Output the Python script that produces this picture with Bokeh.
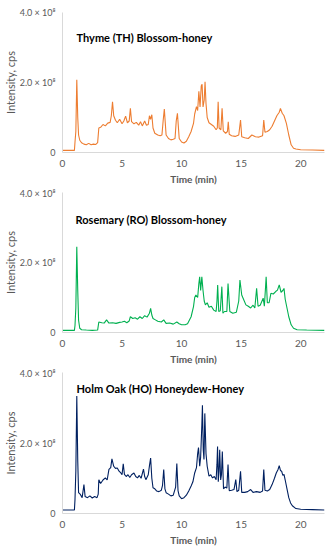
from bokeh.plotting import figure
from bokeh.models import Label, FixedTicker, Range1d
from bokeh.layouts import column
from bokeh.embed import file_html
from bokeh.resources import INLINE

# Intensities in units of 1e8 cps, retention time in minutes
TH_T = [0, 0.5, 1.0, 1.05, 1.12, 1.2, 1.28, 1.35, 1.45, 1.6, 1.8, 2.0, 2.2, 2.4, 2.6, 2.8, 2.95, 3.05, 3.2, 3.4,
        3.6, 3.8, 4.0, 4.1, 4.2, 4.3, 4.45, 4.6, 4.8, 5.0, 5.15, 5.3, 5.45, 5.6, 5.7, 5.8, 6.0, 6.2, 6.4, 6.55,
        6.7, 6.9, 7.05, 7.2, 7.3, 7.4, 7.5, 7.6, 7.75, 8.0, 8.2, 8.35, 8.45, 8.55, 8.7, 8.9, 9.1, 9.3, 9.45, 9.55,
        9.65, 9.8, 10.0, 10.2, 10.4, 10.6, 10.8, 11.0, 11.1, 11.25, 11.35, 11.45, 11.55, 11.65, 11.72, 11.8, 11.9,
        11.97, 12.05, 12.15, 12.3, 12.5, 12.7, 12.9, 13.0, 13.07, 13.15, 13.3, 13.4, 13.5, 13.7, 13.85, 13.92, 14.0,
        14.2, 14.5, 14.8, 14.95, 15.05, 15.3, 15.6, 15.9, 16.2, 16.5, 16.8, 16.9, 17.0, 17.2, 17.4, 17.6, 17.8,
        18.0, 18.2, 18.3, 18.45, 18.6, 18.8, 19.0, 19.2, 19.4, 19.6, 20.0, 21.0, 22.0]
TH_V = [0.06, 0.06, 0.06, 0.3, 0.6, 2.08, 1.0, 0.5, 0.35, 0.28, 0.24, 0.22, 0.26, 0.22, 0.24, 0.23, 0.28, 0.7, 0.72, 0.8,
        0.76, 0.84, 0.86, 1.05, 1.45, 1.05, 0.92, 0.85, 0.95, 0.82, 0.9, 1.04, 0.85, 0.9, 1.26, 0.88, 0.82, 0.86, 0.78, 0.88,
        0.76, 0.9, 0.78, 0.8, 1.05, 0.95, 1.08, 0.7, 0.55, 0.5, 0.48, 0.5, 0.9, 1.24, 0.5, 0.4, 0.36, 0.38, 0.4, 0.9,
        1.12, 0.4, 0.3, 0.27, 0.32, 0.45, 0.6, 0.83, 1.1, 1.31, 1.2, 1.75, 1.3, 1.9, 1.95, 1.3, 1.5,
        2.02, 1.4, 1.0, 0.85, 0.8, 0.75, 0.65, 0.7, 1.45, 0.7, 0.65, 1.26, 0.62, 0.55, 0.6, 0.88, 0.52,
        0.48, 0.46, 0.5, 0.93, 0.45, 0.42, 0.4, 0.5, 0.45, 0.44, 0.48, 0.93, 0.58, 0.6, 0.65, 0.75, 0.9,
        1.05, 1.15, 1.26, 1.12, 1.05, 0.83, 0.5, 0.22, 0.12, 0.1, 0.08, 0.07, 0.06]

RO_T = [0, 1.0, 1.05, 1.12, 1.2, 1.28, 1.35, 1.45, 1.6, 2.0, 2.5, 2.95, 3.05, 3.3, 3.5, 3.7, 3.9, 4.2, 4.5, 4.8,
        5.0, 5.2, 5.4, 5.6, 5.7, 5.9, 6.1, 6.3, 6.5, 6.7, 6.9, 7.1, 7.3, 7.4, 7.5, 7.6, 7.8, 8.0, 8.3, 8.5,
        8.7, 9.0, 9.3, 9.6, 9.8, 10.0, 10.3, 10.5, 10.8, 11.0, 11.1, 11.2, 11.35, 11.45, 11.52, 11.6, 11.7, 11.8,
        11.9, 12.0, 12.15, 12.3, 12.5, 12.7, 12.9, 12.97, 13.03, 13.12, 13.25, 13.38, 13.47, 13.6, 13.8, 13.9,
        14.05, 14.3, 14.6, 14.8, 14.9, 15.05, 15.2, 15.4, 15.6, 15.8, 16.0, 16.15, 16.3, 16.42, 16.6, 16.85,
        16.95, 17.05, 17.1, 17.2, 17.35, 17.5, 17.7, 17.9, 18.05, 18.2, 18.35, 18.5, 18.6, 18.7, 18.85, 19.0,
        19.2, 19.4, 19.7, 20.5, 22.0]
RO_V = [0.06, 0.06, 0.2, 0.7, 2.45, 1.2, 0.35, 0.12, 0.08, 0.07, 0.06, 0.07, 0.3, 0.28, 0.27, 0.36, 0.27, 0.28, 0.26, 0.29,
        0.3, 0.32, 0.28, 0.33, 0.45, 0.4, 0.42, 0.38, 0.45, 0.4, 0.48, 0.44, 0.55, 0.69, 0.5, 0.4, 0.36, 0.32, 0.3, 0.36,
        0.26, 0.27, 0.24, 0.3, 0.25, 0.22, 0.22, 0.25, 0.45, 0.74, 1.0, 1.07, 1.0, 1.4, 1.59, 1.2, 1.59, 1.2,
        0.9, 0.79, 0.85, 0.72, 0.75, 0.64, 0.6, 0.9, 1.36, 0.6, 0.62, 1.31, 0.55, 0.6, 0.6, 1.4,
        0.6, 0.55, 0.58, 0.9, 1.5, 1.07, 0.95, 0.79, 0.75, 0.7, 0.78, 0.7, 1.26, 0.75, 0.78, 0.98,
        0.75, 1.3, 1.59, 0.85, 0.85, 1.12, 1.1, 1.17, 1.21, 1.36, 1.15, 1.2, 1.26, 0.95, 0.7, 0.45,
        0.22, 0.12, 0.08, 0.07, 0.06]

HO_T = [0, 1.0, 1.05, 1.12, 1.2, 1.28, 1.35, 1.5, 1.65, 1.8, 1.9, 2.1, 2.3, 2.5, 2.7, 2.9, 3.0, 3.05, 3.2, 3.4,
        3.6, 3.75, 3.9, 4.05, 4.15, 4.3, 4.45, 4.6, 4.75, 4.9, 5.0, 5.1, 5.2, 5.35, 5.5, 5.65, 5.8, 6.0, 6.15, 6.3,
        6.45, 6.6, 6.8, 6.9, 7.0, 7.2, 7.3, 7.4, 7.5, 7.6, 7.75, 7.9, 8.1, 8.3, 8.4, 8.5, 8.6, 8.7, 8.9, 9.1,
        9.3, 9.5, 9.6, 9.7, 9.8, 10.0, 10.2, 10.4, 10.6, 10.8, 10.95, 11.1, 11.25, 11.35, 11.42, 11.52, 11.6, 11.7,
        11.75, 11.82, 11.88, 11.95, 12.05, 12.15, 12.3, 12.45, 12.6, 12.75, 12.9, 12.97, 13.02, 13.08, 13.14, 13.2,
        13.28, 13.35, 13.42, 13.52, 13.65, 13.8, 13.9, 14.0, 14.2, 14.4, 14.55, 14.65, 14.8, 14.95, 15.05, 15.3,
        15.55, 15.8, 16.0, 16.3, 16.6, 16.8, 16.9, 17.0, 17.2, 17.4, 17.6, 17.8, 17.95, 18.1, 18.2, 18.3, 18.4,
        18.5, 18.6, 18.7, 18.85, 19.0, 19.15, 19.3, 19.6, 20.0, 21.0, 22.0]
HO_V = [0.1, 0.1, 0.4, 1.2, 3.33, 1.5, 0.59, 0.54, 0.45, 0.82, 0.48, 0.45, 0.5, 0.44, 0.48, 0.45, 0.55, 0.96, 0.85, 0.95,
        1.01, 0.95, 1.25, 1.3, 1.55, 1.34, 1.28, 1.29, 1.2, 1.15, 1.1, 1.41, 1.11, 1.05, 1.1, 1.02, 1.1, 1.15, 1.05, 1.01,
        1.08, 1.0, 1.26, 1.05, 0.96, 1.1, 1.35, 1.57, 1.0, 0.73, 0.7, 0.64, 0.62, 0.66, 0.8, 1.25, 0.7, 0.59, 0.55, 0.5,
        0.52, 0.75, 1.42, 0.65, 0.5, 0.42, 0.45, 0.52, 0.64, 0.78, 0.9, 1.15, 1.3, 1.7, 1.87, 1.34, 1.6, 2.5,
        3.07, 1.8, 1.53, 2.84, 1.7, 1.34, 1.06, 1.1, 1.01, 1.05, 0.96, 1.4, 1.9, 0.9, 1.2, 1.81,
        0.95, 1.1, 1.76, 0.7, 0.75, 0.72, 1.39, 0.65, 0.66, 0.68, 0.96, 0.62, 0.66, 1.2, 0.6, 0.6,
        0.62, 0.68, 0.6, 0.62, 0.6, 0.64, 1.25, 0.66, 0.64, 0.68, 0.82, 1.0, 1.15, 1.25, 1.36, 1.22, 1.2,
        1.08, 1.11, 0.95, 0.7, 0.45, 0.3, 0.22, 0.14, 0.12, 0.11, 0.1]

TITLES = ["Thyme (TH) Blossom-honey", "Rosemary (RO) Blossom-honey", "Holm Oak (HO) Honeydew-Honey"]
COLORS = ["#ED7D31", "#00B050", "#002060"]
X_TICKS = [0, 5, 10, 15, 20]
Y_TICKS = [0, 2, 4]
Y_TICK_LABELS = {0: "0", 2: "2.0 × 10⁸", 4: "4.0 × 10⁸"}
X_LABEL = "Time (min)"
Y_LABEL = "Intensity, cps"

FONT = "Lato"
GRAY = "#595959"


def panel(t, v, title, color, height, top, bottom, title_x, title_y):
    p = figure(width=330, height=height, output_backend="svg", toolbar_location=None,
               x_range=Range1d(0, 22), y_range=Range1d(0, 4),
               min_border_left=62, min_border_right=6,
               min_border_top=top, min_border_bottom=bottom)
    p.outline_line_color = None
    p.grid.visible = False
    p.line(t, v, line_color=color, line_width=1.1)
    for ax in (p.xaxis[0], p.yaxis[0]):
        ax.axis_line_color = "#D9D9D9"
        ax.major_tick_line_color = None
        ax.minor_tick_line_color = None
        ax.major_tick_out = 0
        ax.major_tick_in = 0
        ax.minor_tick_out = 0
        ax.minor_tick_in = 0
        ax.major_label_text_color = GRAY
        ax.major_label_text_font = FONT
        ax.axis_label_text_color = GRAY
        ax.axis_label_text_font = FONT
    p.xaxis.ticker = FixedTicker(ticks=X_TICKS)
    p.xaxis.major_label_text_font_size = "10px"
    p.xaxis.major_label_standoff = 7
    p.xaxis.axis_label = X_LABEL
    p.xaxis.axis_label_text_font_size = "10px"
    p.xaxis.axis_label_text_font_style = "bold"
    p.xaxis.axis_label_standoff = 3
    p.yaxis.ticker = FixedTicker(ticks=Y_TICKS)
    p.yaxis.major_label_overrides = Y_TICK_LABELS
    p.yaxis.major_label_text_font_size = "9px"
    p.yaxis.major_label_standoff = 7
    p.yaxis.axis_label = Y_LABEL
    p.yaxis.axis_label_text_font_size = "11px"
    p.yaxis.axis_label_text_font_style = "normal"
    p.yaxis.axis_label_standoff = 0
    p.add_layout(Label(x=title_x, y=title_y, text=title, text_font=FONT, text_font_size="11px",
                       text_font_style="bold", text_color="black", text_baseline="middle"))
    return p


p1 = panel(TH_T, TH_V, TITLES[0], COLORS[0], 187, 12, 33, 1.18, 3.30)
p2 = panel(RO_T, RO_V, TITLES[1], COLORS[1], 180, 5, 34, 1.1, 3.23)
p3 = panel(HO_T, HO_V, TITLES[2], COLORS[2], 181, 5, 34, 1.18, 3.55)

layout = column(p1, p2, p3, spacing=0)
open("out.html", "w").write(file_html(layout, INLINE))
